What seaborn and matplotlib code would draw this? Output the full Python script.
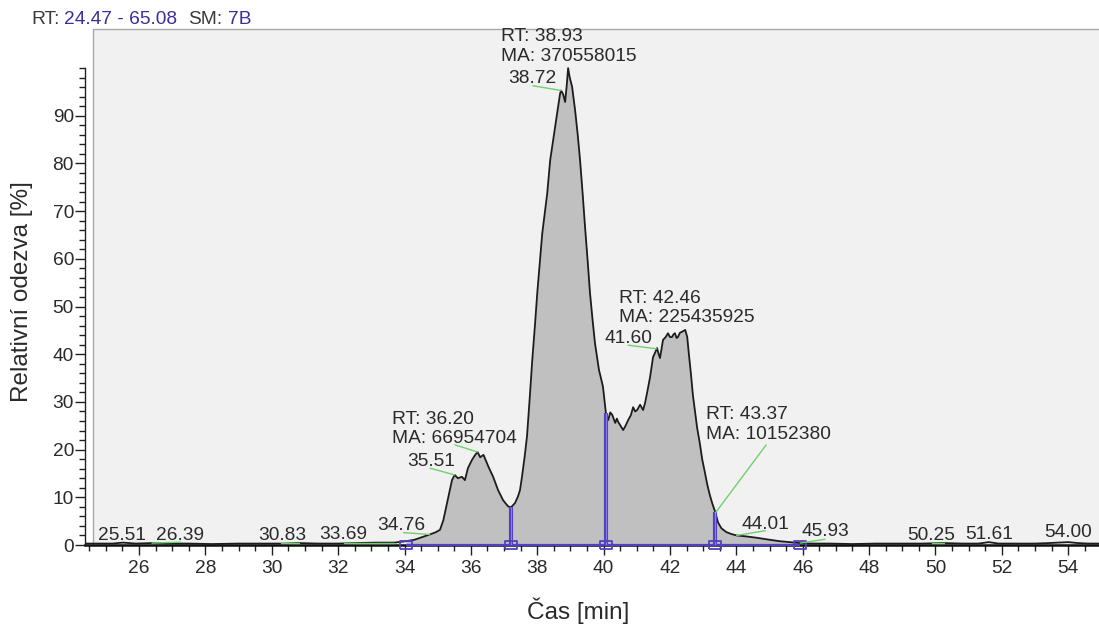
import numpy as np
import pandas as pd
import matplotlib
matplotlib.use("Agg")
import matplotlib.pyplot as plt
import seaborn as sns
from matplotlib.patches import Rectangle
from matplotlib.ticker import FixedLocator

# Chromatogram trace: retention time [min] and relative response [%]
time_min = [
    24.40, 24.80, 25.20, 25.51, 25.90, 26.39, 26.90, 27.50, 28.20, 29.00,
    29.80, 30.40, 30.83, 31.40, 32.00, 32.60, 33.10, 33.69, 34.05, 34.30,
    34.55, 34.76, 34.95, 35.07, 35.17, 35.32, 35.43, 35.51, 35.61, 35.73,
    35.82, 35.91, 36.03, 36.12, 36.20, 36.28, 36.38, 36.53, 36.67, 36.82,
    36.97, 37.12, 37.21, 37.33, 37.42, 37.48, 37.54, 37.62, 37.69, 37.77,
    37.85, 37.93, 38.00, 38.08, 38.15, 38.23, 38.30, 38.39, 38.47, 38.54,
    38.62, 38.69, 38.72, 38.78, 38.84, 38.89, 38.93, 38.98, 39.05, 39.14,
    39.22, 39.29, 39.37, 39.44, 39.52, 39.59, 39.67, 39.74, 39.80, 39.86,
    39.92, 39.98, 40.03, 40.07, 40.14, 40.20, 40.26, 40.35, 40.40, 40.44,
    40.52, 40.59, 40.66, 40.74, 40.82, 40.89, 40.95, 41.01, 41.10, 41.19,
    41.25, 41.31, 41.40, 41.49, 41.55, 41.61, 41.66, 41.70, 41.79, 41.87,
    41.94, 42.00, 42.06, 42.11, 42.15, 42.20, 42.24, 42.30, 42.36, 42.46,
    42.52, 42.57, 42.63, 42.69, 42.75, 42.82, 42.90, 42.97, 43.05, 43.12,
    43.20, 43.28, 43.36, 43.45, 43.55, 43.70, 43.85, 44.01, 44.30, 44.63,
    45.00, 45.30, 45.62, 45.93, 46.30, 46.80, 47.50, 48.20, 49.00, 49.60,
    50.25, 50.80, 51.30, 51.61, 51.90, 52.50, 53.00, 53.40, 53.70, 54.00,
    54.30, 54.60, 54.93,
]
response = [
    0.3, 0.3, 0.3, 0.5, 0.3, 0.4, 0.3, 0.3, 0.2, 0.3,
    0.3, 0.3, 0.4, 0.3, 0.3, 0.4, 0.5, 0.5, 0.8, 1.1,
    1.7, 2.2, 2.7, 3.2, 5.2, 10.1, 13.6, 14.7, 14.0, 14.3,
    13.6, 16.1, 17.8, 18.8, 19.5, 18.4, 18.9, 16.4, 14.3, 11.5,
    9.4, 8.1, 7.9, 8.8, 10.2, 11.5, 14.3, 18.5, 22.7, 30.5,
    38.8, 46.0, 52.8, 59.5, 65.3, 69.8, 73.7, 80.7, 84.5, 87.7,
    91.5, 94.7, 95.3, 94.5, 92.9, 96.5, 100.0, 98.0, 96.1, 91.2,
    86.0, 80.7, 73.5, 66.7, 59.5, 52.8, 47.0, 42.3, 39.5, 36.7,
    35.0, 33.2, 30.0, 27.6, 26.2, 27.8, 27.3, 25.6, 26.5, 25.8,
    24.9, 24.1, 25.0, 26.2, 27.2, 28.9, 28.0, 28.3, 29.4, 28.3,
    29.8, 31.9, 35.2, 39.4, 40.3, 41.3, 40.0, 39.2, 43.0, 43.6,
    44.4, 43.6, 43.6, 44.2, 44.4, 43.4, 43.6, 44.5, 44.7, 45.1,
    43.6, 40.0, 36.0, 31.5, 28.3, 24.5, 21.3, 18.0, 15.3, 12.8,
    10.5, 8.6, 7.0, 4.7, 3.5, 2.7, 2.3, 2.0, 1.8, 1.5,
    1.1, 0.8, 0.6, 0.4, 0.3, 0.3, 0.2, 0.3, 0.3, 0.3,
    0.4, 0.3, 0.3, 0.6, 0.3, 0.3, 0.3, 0.4, 0.5, 0.6,
    0.4, 0.3, 0.3,
]

# Integrated peaks: retention time and area
peak_rt = [36.20, 38.93, 42.46, 43.37]
peak_area = [66954704, 370558015, 225435925, 10152380]
# Integration boundaries on the common baseline
peak_bounds = [34.05, 37.21, 40.07, 43.36, 45.93]
# Apex times labelled along the trace
apex_times = [25.51, 26.39, 30.83, 33.69, 34.76, 35.51, 38.72,
              41.60, 44.01, 45.93, 50.25, 51.61, 54.00]

x_ticks = [26, 28, 30, 32, 34, 36, 38, 40, 42, 44, 46, 48, 50, 52, 54]
y_ticks = [0, 10, 20, 30, 40, 50, 60, 70, 80, 90]

sns.set_style("ticks")
plt.rcParams["font.family"] = ["Liberation Sans", "DejaVu Sans"]

W, H = 1099, 628
fig = plt.figure(figsize=(W / 100, H / 100), dpi=100)
fig.patch.set_facecolor("white")
ax = fig.add_axes([85 / W, 83 / H, 1014 / W, 516 / H])
ax.set_facecolor("white")

TXT = "#2a2a2a"
BLUE = "#5140c0"
GREEN = "#6fd06f"
FS = 13.8

# plot frame (light panel behind the trace)
ax.add_patch(Rectangle((8 / 1014, 0), 1.0, 1.0, transform=ax.transAxes,
                       facecolor="#f1f1f1", edgecolor="#a9a9a9", lw=1.0,
                       zorder=0, clip_on=False))

df = pd.DataFrame({"t": time_min, "resp": response})
t = df["t"].to_numpy()
r = df["resp"].to_numpy()

# shaded integrated region
mask = (t >= peak_bounds[0]) & (t <= peak_bounds[-1])
ax.fill_between(t[mask], 0, r[mask], color="#c0c0c0", lw=0, zorder=1)

sns.lineplot(data=df, x="t", y="resp", ax=ax, color="#1c1c1c", lw=1.3,
             errorbar=None, zorder=4)

# baseline and boundary markers
ax.plot([peak_bounds[0], peak_bounds[-1]], [0, 0], color=BLUE, lw=1.6,
        zorder=5, clip_on=False, solid_capstyle="butt")
for b in peak_bounds[1:-1]:
    h = np.interp(b, t, r)
    ax.plot([b, b], [0, h], color=BLUE, lw=3.0, zorder=5, solid_capstyle="butt")
    ax.plot([b, b], [0, h], color="#8a7ee0", lw=0.8, zorder=5, solid_capstyle="butt")
rect_marker = [(-1, -0.6), (1, -0.6), (1, 0.6), (-1, 0.6), (-1, -0.6)]
ax.plot(peak_bounds, [0] * len(peak_bounds), ls="none", marker=rect_marker,
        ms=9, mfc="none", mec=BLUE, mew=1.3, zorder=6, clip_on=False)

# peak annotations (RT / MA blocks)
block_pos = {36.20: (33.62, 26.4), 38.93: (36.90, 106.6),
             42.46: (40.45, 51.7), 43.37: (43.09, 27.3)}
for rt, area in zip(peak_rt, peak_area):
    bx, by = block_pos[rt]
    ax.text(bx, by, f"RT: {rt:.2f}", fontsize=FS, color=TXT, ha="left",
            va="center", zorder=7)
    ax.text(bx, by - 4.1, f"MA: {area}", fontsize=FS, color=TXT, ha="left",
            va="center", zorder=7)

# apex labels
apex_pos = {25.51: (24.77, 1.9), 26.39: (26.51, 1.9), 30.83: (29.58, 1.9),
            33.69: (31.43, 2.2), 34.76: (33.17, 4.1), 35.51: (34.09, 17.5),
            38.72: (37.13, 97.8), 41.60: (40.02, 43.3), 44.01: (44.17, 4.4),
            45.93: (45.97, 2.8), 50.25: (49.15, 2.0), 51.61: (50.89, 2.2),
            54.00: (53.27, 2.6)}
for a in apex_times:
    px, py = apex_pos[a]
    ax.text(px, py, f"{a:.2f}", fontsize=FS, color=TXT, ha="left",
            va="center", zorder=7)

# green leader lines from apex to label
leader_end = {26.39: (27.25, 0.6), 30.83: (30.27, 0.4), 33.69: (32.17, 0.5),
              34.76: (33.97, 2.6), 35.51: (34.77, 16.1), 36.20: (35.52, 21.0),
              38.72: (37.87, 96.3), 41.60: (40.74, 41.9), 43.37: (44.90, 21.0),
              44.01: (44.87, 3.0), 45.93: (46.67, 1.2), 50.25: (49.89, 0.4)}
for a, (ex, ey) in leader_end.items():
    ay = np.interp(a, t, r)
    ax.plot([a, ex], [ay, ey], color=GREEN, lw=1.0, zorder=6)

# axes
ax.set_xlim(24.37, 54.93)
ax.set_ylim(0, 108.2)
ax.set_xlabel("")
ax.set_ylabel("")
ax.xaxis.set_major_locator(FixedLocator(x_ticks))
ax.xaxis.set_minor_locator(FixedLocator(np.arange(24.5, 55.0, 0.5)))
ax.yaxis.set_major_locator(FixedLocator(y_ticks))
ax.yaxis.set_minor_locator(FixedLocator(np.arange(0, 101, 2)))
ax.set_xticklabels([str(v) for v in x_ticks])
ax.set_yticklabels([str(v) for v in y_ticks])
ax.tick_params(axis="x", which="major", length=7.5, width=1.0, color="#202020",
               labelsize=FS, labelcolor=TXT, pad=3, direction="out")
ax.tick_params(axis="x", which="minor", length=4.5, width=1.0, color="#202020",
               direction="out")
ax.tick_params(axis="y", which="major", length=7, width=1.0, color="#202020",
               labelsize=FS, labelcolor=TXT, pad=1, direction="out")
ax.tick_params(axis="y", which="minor", length=4.5, width=1.0, color="#202020",
               direction="out")

for s in ("top", "right"):
    ax.spines[s].set_visible(False)
ax.spines["left"].set_color("#202020")
ax.spines["left"].set_linewidth(1.0)
ax.spines["left"].set_bounds(0, 100)
ax.spines["bottom"].set_color("#111111")
ax.spines["bottom"].set_linewidth(1.8)
ax.spines["bottom"].set_zorder(3)

# header line
fig.text(31.7 / W, 1 - 20 / H, "RT:", fontsize=FS, color="#3a3a3a",
         ha="left", va="center")
fig.text(64 / W, 1 - 20 / H, "24.47 - 65.08", fontsize=FS, color="#3b3098",
         ha="left", va="center")
fig.text(188 / W, 1 - 20 / H, "SM:", fontsize=FS, color="#3a3a3a",
         ha="left", va="center")
fig.text(228 / W, 1 - 20 / H, "7B", fontsize=FS, color="#3b3098",
         ha="left", va="center")

# axis titles
fig.text(578 / W, 1 - 611 / H, "Čas [min]", fontsize=17.5, color=TXT,
         ha="center", va="center")
fig.text(22 / W, 1 - 292 / H, "Relativní odezva [%]", fontsize=17.5, color=TXT,
         ha="center", va="center", rotation=90)

fig.savefig("out.png", dpi=100, facecolor="white")
